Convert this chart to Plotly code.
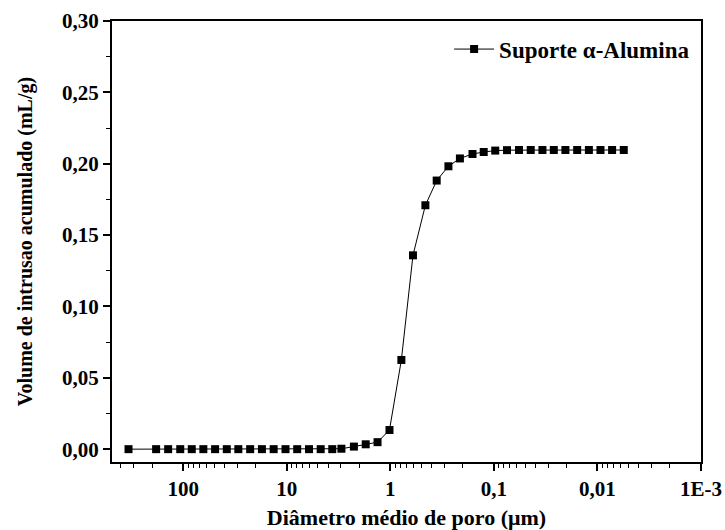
import plotly.graph_objects as go
import numpy as np

# Pore diameter (um) and cumulative intrusion volume (mL/g)
diameter = [338, 183, 140, 107, 82.8, 64, 49.3, 38.0, 29.4, 22.6, 17.4, 13.4, 10.3,
            7.94, 6.11, 4.71, 3.64, 2.97, 2.25, 1.73, 1.33, 1.02, 0.783, 0.605,
            0.459, 0.357, 0.275, 0.213, 0.161, 0.1255, 0.0971, 0.0747, 0.0572,
            0.0441, 0.0340, 0.0264, 0.0204, 0.0157, 0.0121, 0.00935, 0.00722, 0.00557]
volume = [0.0, 0.0, 0.0, 0.0, 0.0, 0.0, 0.0, 0.0, 0.0, 0.0, 0.0, 0.0, 0.0,
          0.0, 0.0, 0.0, 0.0, 0.0003, 0.0018, 0.0034, 0.0049, 0.0134, 0.0625, 0.1358,
          0.1709, 0.1882, 0.1982, 0.2037, 0.2068, 0.2082, 0.2092, 0.2095, 0.2096,
          0.2096, 0.2096, 0.2096, 0.2096, 0.2096, 0.2096, 0.2096, 0.2096, 0.2096]

x_tickvals = [100, 10, 1, 0.1, 0.01, 0.001]
x_ticktext = ["100", "10", "1", "0,1", "0,01", "1E-3"]

FONT = "Liberation Serif"

minor_x = [m * 10.0 ** e for e in range(-3, 3) for m in range(2, 10)]

fig = go.Figure()
fig.add_trace(go.Scatter(
    x=diameter, y=volume, mode="lines+markers",
    name="<b>Suporte α-Alumina</b>",
    line=dict(color="black", width=1),
    marker=dict(symbol="square", size=8, color="black"),
))

fig.update_layout(
    width=725, height=530,
    margin=dict(l=112, r=24, t=21, b=68, autoexpand=False),
    paper_bgcolor="white", plot_bgcolor="white",
    separators=",.",
    font=dict(family=FONT, size=21, color="black"),
    showlegend=True,
    legend=dict(x=0.99, y=0.985, xanchor="right", yanchor="top",
                bgcolor="rgba(0,0,0,0)", font=dict(family=FONT, size=23, color="black"),
                itemwidth=40, tracegroupgap=0),
)

fig.update_xaxes(
    type="log", range=[np.log10(488), -3], automargin=False,
    tickmode="array", tickvals=x_tickvals, ticktext=x_ticktext,
    ticks="outside", ticklen=7, tickwidth=1.5, tickcolor="black",
    showline=True, linecolor="black", linewidth=2, mirror=True,
    showgrid=False, zeroline=False,
    tickfont=dict(family=FONT, size=21, color="black", weight="bold"),
    minor=dict(tickmode="array", tickvals=minor_x, ticks="outside", ticklen=4,
               tickwidth=1, tickcolor="black", showgrid=False),
    title=dict(text="<b>Diâmetro médio de poro (μm)</b>", standoff=12,
               font=dict(family=FONT, size=22, color="black")),
)

fig.update_yaxes(
    range=[-0.009, 0.30], automargin=False,
    tickmode="array", tickvals=[0, 0.05, 0.10, 0.15, 0.20, 0.25, 0.30],
    tickformat=".2f",
    ticks="outside", ticklen=7, tickwidth=1.5, tickcolor="black",
    showline=True, linecolor="black", linewidth=2, mirror=True,
    showgrid=False, zeroline=False,
    tickfont=dict(family=FONT, size=21, color="black", weight="bold"),
    minor=dict(tickmode="array", tickvals=[0.025, 0.075, 0.125, 0.175, 0.225, 0.275],
               ticks="outside", ticklen=4, tickwidth=1, tickcolor="black", showgrid=False),
    title=dict(text="<b>Volume de intrusao acumulado (mL/g)</b>", standoff=24,
               font=dict(family=FONT, size=20, color="black")),
)

fig.write_html("out.html")
